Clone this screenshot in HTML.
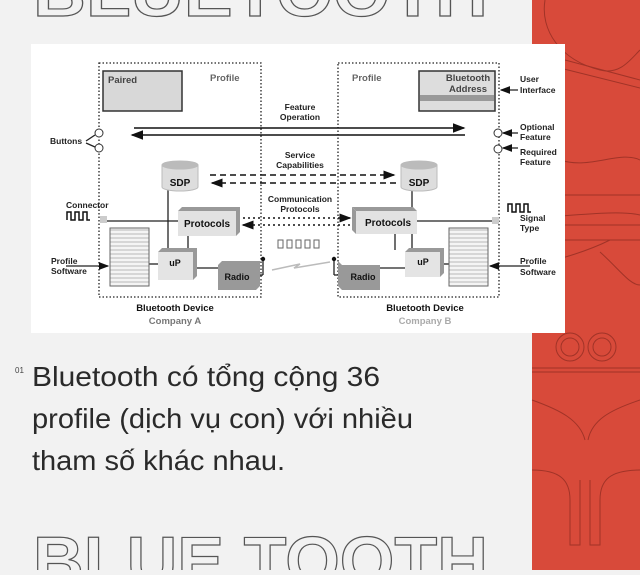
<!DOCTYPE html>
<html><head><meta charset="utf-8"><style>
body{margin:0;width:640px;height:570px;overflow:hidden;background:#f2f2f2;font-family:"Liberation Sans",sans-serif;}
</style></head><body>
<svg width="640" height="570" viewBox="0 0 640 570" xmlns="http://www.w3.org/2000/svg" font-family="Liberation Sans, sans-serif">
<defs>
<marker id="ah" markerWidth="8" markerHeight="6" refX="7" refY="3" orient="auto"><path d="M0,0 L8,3 L0,6 Z" fill="#111"/></marker>
<pattern id="lines" width="4" height="4" patternUnits="userSpaceOnUse"><rect width="4" height="4" fill="#f4f4f4"/><line x1="0" y1="2" x2="4" y2="2" stroke="#aaa" stroke-width="0.8"/></pattern>
</defs>
<rect x="532" y="0" width="108" height="570" fill="#d84a3a"/>
<g fill="none" stroke="#8a2a20" stroke-width="1" opacity="0.7">
<path d="M545,0 C540,30 560,60 600,70 C620,75 630,60 640,50"/>
<path d="M565,60 L640,80"/><path d="M560,68 L640,88"/>
<path d="M560,160 C590,170 620,150 640,160"/>
<path d="M532,195 L640,195"/>
<path d="M532,218 C580,215 620,210 640,215"/><path d="M532,225 L640,225"/>
<path d="M532,240 L640,240"/>
<path d="M532,265 C560,260 590,250 610,240 M600,252 C620,270 630,285 640,285"/>
<circle cx="570" cy="347" r="14"/><circle cx="570" cy="347" r="9"/>
<circle cx="602" cy="347" r="14"/><circle cx="602" cy="347" r="9"/>
<path d="M532,368 L640,368"/><path d="M532,372 L640,372"/>
<path d="M532,400 C560,410 580,420 585,440 M640,400 C610,410 592,420 588,440"/>
<path d="M532,470 C560,470 570,480 570,500 L570,545 L580,545 L580,480"/>
<path d="M640,470 C610,470 600,480 600,500 L600,545 L590,545 L590,480"/>
</g>
<text x="33" y="16" font-size="66" font-weight="bold" fill="none" stroke="#555" stroke-width="1.2" textLength="455" lengthAdjust="spacingAndGlyphs">BLUETOOTH</text>
<text x="33" y="584" font-size="68" font-weight="bold" fill="none" stroke="#555" stroke-width="1.2" textLength="455" lengthAdjust="spacingAndGlyphs">BLUE TOOTH</text>
<rect x="31" y="44" width="534" height="289" fill="#fff"/>
<g stroke="#222" stroke-width="1.3" fill="none" stroke-dasharray="1.5,2">
<rect x="99" y="63" width="162" height="234"/><rect x="338" y="63" width="161" height="234"/>
</g>
<rect x="103" y="71" width="79" height="40" fill="#d8d8d8" stroke="#333" stroke-width="1.5"/>
<rect x="419" y="71" width="76" height="40" fill="#ddd" stroke="#333" stroke-width="1.5"/>
<rect x="420" y="95" width="74" height="6" fill="#999"/>
<g font-size="9.5" font-weight="bold" fill="#222">
<text x="108" y="83" fill="#444">Paired</text>
<text x="210" y="81" fill="#666">Profile</text>
<text x="352" y="81" fill="#666">Profile</text>
<text x="468" y="81" text-anchor="middle" fill="#444">Bluetooth</text>
<text x="468" y="92" text-anchor="middle" fill="#444">Address</text>
</g>
<g font-size="8.5" font-weight="bold" fill="#222" text-anchor="middle">
<text x="300" y="110">Feature</text><text x="300" y="120">Operation</text>
<text x="300" y="158">Service</text><text x="300" y="168">Capabilities</text>
<text x="300" y="202">Communication</text><text x="300" y="212">Protocols</text>
</g>
<g stroke="#111" stroke-width="1.6">
<line x1="134" y1="128" x2="464" y2="128" marker-end="url(#ah)"/>
<line x1="465" y1="135" x2="132" y2="135" marker-end="url(#ah)"/>
</g>
<g stroke="#111" stroke-width="1.5" stroke-dasharray="6,4">
<line x1="210" y1="175" x2="394" y2="175" marker-end="url(#ah)"/>
<line x1="396" y1="183" x2="212" y2="183" marker-end="url(#ah)"/>
</g>
<g stroke="#111" stroke-width="1.5" stroke-dasharray="2,3">
<line x1="238" y1="218" x2="350" y2="218" marker-end="url(#ah)"/>
<line x1="355" y1="225" x2="243" y2="225" marker-end="url(#ah)"/>
</g>
<g stroke="#222" stroke-width="1.3" fill="none">
<line x1="168" y1="189" x2="168" y2="250"/><line x1="188" y1="236" x2="188" y2="250"/>
<line x1="107" y1="221" x2="178" y2="221"/>
<line x1="149" y1="264" x2="158" y2="264"/>
<line x1="193" y1="268" x2="218" y2="268"/>
<line x1="256" y1="275" x2="263" y2="275"/><line x1="263" y1="275" x2="263" y2="259"/>
<line x1="412" y1="189" x2="412" y2="250"/><line x1="395" y1="234" x2="395" y2="250"/>
<line x1="417" y1="221" x2="492" y2="221"/>
<line x1="440" y1="264" x2="449" y2="264"/>
<line x1="380" y1="268" x2="405" y2="268"/>
<line x1="342" y1="275" x2="334" y2="275"/><line x1="334" y1="275" x2="334" y2="260"/>
<line x1="66" y1="266" x2="108" y2="266" marker-end="url(#ah)"/>
<line x1="530" y1="266" x2="490" y2="266" marker-end="url(#ah)"/>
<line x1="518" y1="90" x2="501" y2="90" marker-end="url(#ah)"/>
<line x1="518" y1="133" x2="503" y2="133" marker-end="url(#ah)"/>
<line x1="518" y1="148" x2="503" y2="148" marker-end="url(#ah)"/>
<line x1="86" y1="141" x2="95" y2="135"/><line x1="86" y1="143" x2="95" y2="147"/>
</g>
<circle cx="263" cy="259" r="2.2" fill="#111"/><circle cx="334" cy="259" r="2.2" fill="#111"/>
<g fill="#fff" stroke="#333" stroke-width="1"><circle cx="99" cy="133" r="4"/><circle cx="99" cy="148" r="4"/><circle cx="498" cy="133" r="4"/><circle cx="498" cy="149" r="4"/></g>
<g fill="#ddd" stroke="#bbb">
<path d="M162,165 L162,187 A18,4 0 0 0 198,187 L198,165 Z"/><ellipse cx="180" cy="165" rx="18" ry="4" fill="#bbb"/>
<path d="M401,165 L401,187 A18,4 0 0 0 437,187 L437,165 Z"/><ellipse cx="419" cy="165" rx="18" ry="4" fill="#bbb"/>
</g>
<g fill="#999"><path d="M178,211 L182,207 L240,207 L240,232 L236,236 L236,211 Z"/><path d="M356,211 L352,207 L413,207 L417,211 Z"/><path d="M356,211 L352,207 L352,230 L356,234Z"/>
<path d="M158,252 L162,248 L197,248 L197,276 L193,280 Z"/><path d="M218,265 L222,261 L260,261 L260,286 L256,290Z"/>
<path d="M405,252 L409,248 L444,248 L444,273 L440,277Z"/><path d="M342,265 L338,261 L338,286 L342,290Z"/></g>
<rect x="178" y="211" width="58" height="25" fill="#e2e2e2"/>
<rect x="356" y="211" width="61" height="23" fill="#e2e2e2"/>
<rect x="158" y="252" width="35" height="28" fill="#e4e4e4"/>
<rect x="218" y="265" width="38" height="25" fill="#999"/>
<rect x="405" y="252" width="35" height="25" fill="#e4e4e4"/>
<rect x="342" y="265" width="38" height="25" fill="#999"/>
<rect x="110" y="228" width="39" height="58" fill="url(#lines)" stroke="#666"/>
<rect x="449" y="228" width="39" height="58" fill="url(#lines)" stroke="#666"/>
<rect x="100" y="216" width="7" height="7" fill="#ccc"/><rect x="492" y="217" width="7" height="7" fill="#ccc"/>
<g font-size="10" font-weight="bold" fill="#111" text-anchor="middle">
<text x="180" y="186">SDP</text><text x="419" y="186">SDP</text>
<text x="207" y="227">Protocols</text><text x="388" y="226">Protocols</text>
<text x="175" y="266" font-size="9">uP</text><text x="423" y="265" font-size="9">uP</text>
<text x="237" y="280" font-size="9">Radio</text><text x="363" y="280" font-size="9">Radio</text>
<text x="175" y="311" font-size="9.5">Bluetooth Device</text><text x="175" y="324" font-size="9.5" fill="#777">Company A</text>
<text x="425" y="311" font-size="9.5">Bluetooth Device</text><text x="425" y="324" font-size="9.5" fill="#aaa">Company B</text>
</g>
<g font-size="8.5" font-weight="bold" fill="#222">
<text x="50" y="144">Buttons</text>
<text x="66" y="208">Connector</text>
<text x="51" y="264">Profile</text><text x="51" y="274">Software</text>
<text x="520" y="82">User</text><text x="520" y="93">Interface</text>
<text x="520" y="130">Optional</text><text x="520" y="140">Feature</text>
<text x="520" y="155">Required</text><text x="520" y="165">Feature</text>
<text x="520" y="221">Signal</text><text x="520" y="231">Type</text>
<text x="520" y="264">Profile</text><text x="520" y="275">Software</text>
</g>
<g fill="none" stroke="#111" stroke-width="1.5">
<path d="M67,220 L67,212 L71,212 L71,220 L75,220 L75,212 L79,212 L79,220 L83,220 L83,212 L87,212 L87,220 L90,220"/>
<path d="M508,212 L508,204 L512,204 L512,212 L516,212 L516,204 L520,204 L520,212 L524,212 L524,204 L528,204 L528,212 L531,212"/>
</g>
<g fill="none" stroke="#666" stroke-width="1"><rect x="278" y="240" width="5" height="8"/><rect x="287" y="240" width="5" height="8"/><rect x="296" y="240" width="5" height="8"/><rect x="305" y="240" width="5" height="8"/><rect x="314" y="240" width="5" height="8"/></g>
<path d="M272,270 L300,264 L294,268 L330,262" stroke="#bbb" stroke-width="1.5" fill="none"/>
<text x="15" y="373" font-size="8" fill="#444">01</text>
<g font-size="28" fill="#2a2a2a">
<text x="32" y="386" textLength="348" lengthAdjust="spacingAndGlyphs">Bluetooth có tổng cộng 36</text>
<text x="32" y="428" textLength="381" lengthAdjust="spacingAndGlyphs">profile (dịch vụ con) với nhiều</text>
<text x="32" y="470" textLength="253" lengthAdjust="spacingAndGlyphs">tham số khác nhau.</text>
</g>
</svg>
</body></html>
